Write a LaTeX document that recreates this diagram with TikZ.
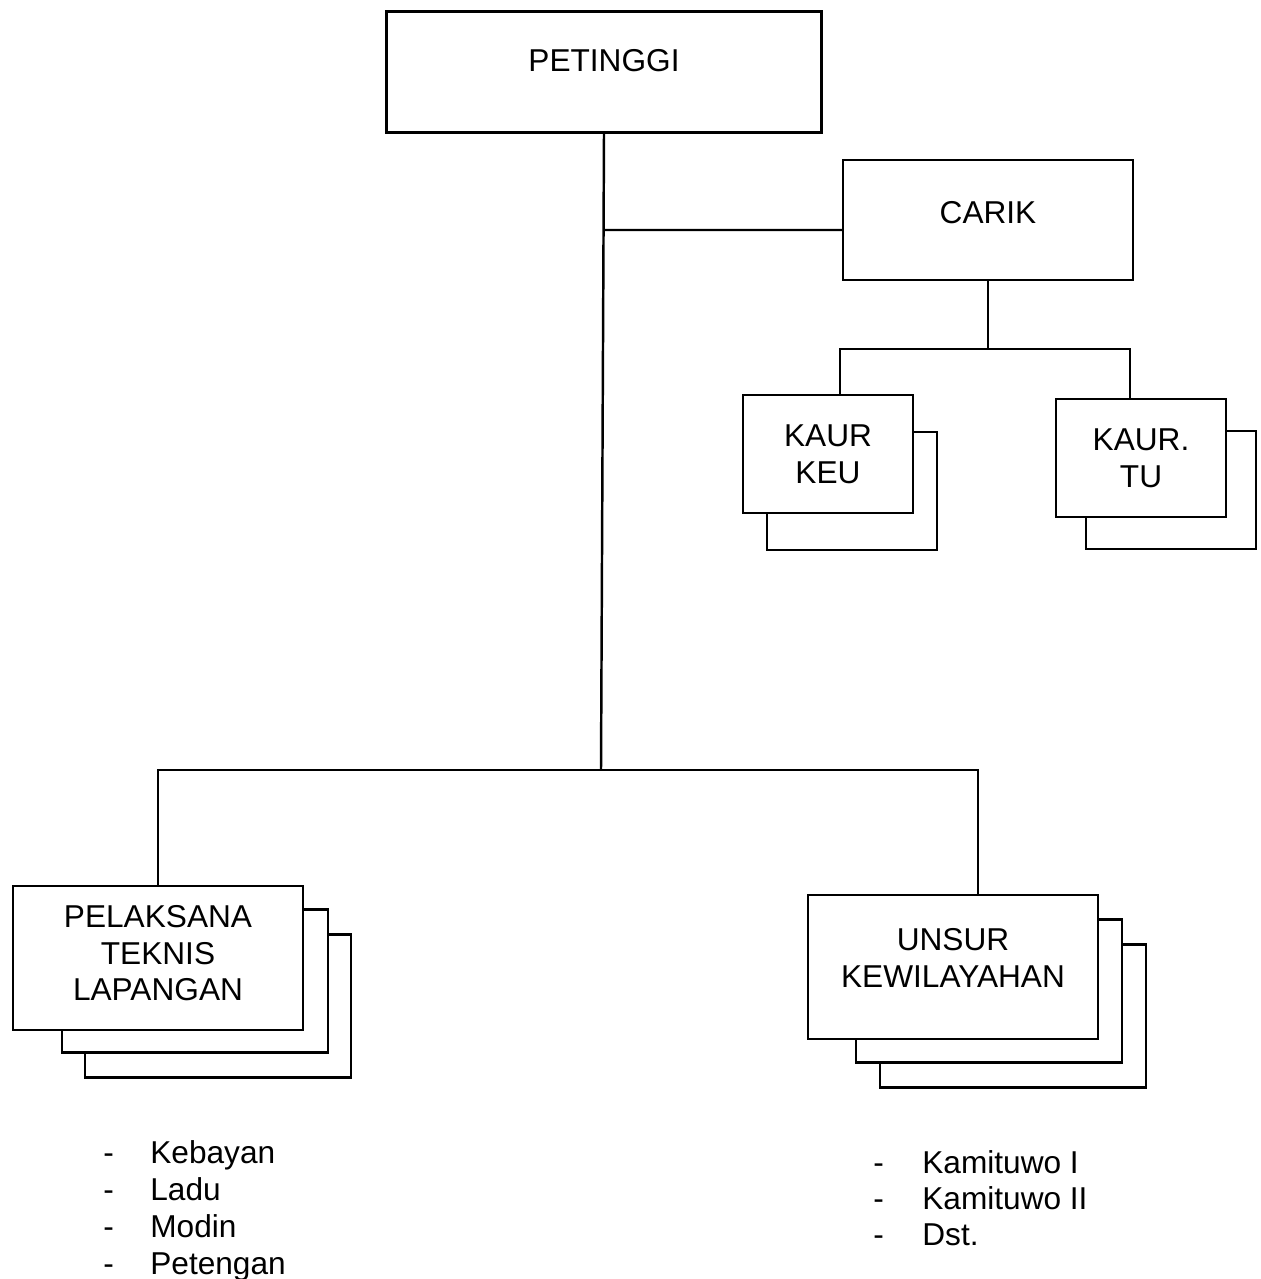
\documentclass[tikz,border=0pt]{standalone}
\usepackage{fontspec}
\setmainfont{Liberation Sans}
\usetikzlibrary{positioning}
\tikzset{
  orgbox/.style   = {draw,fill=white,line width=1.2pt,align=center,inner sep=0pt,
                     font=\fontsize{18}{21}\selectfont},
  widebox/.style  = {orgbox,minimum width=5.8cm,minimum height=2.88cm},
  backbox/.style  = {orgbox,minimum width=5.32cm,minimum height=2.86cm},
  smallbox/.style = {orgbox,minimum width=3.4cm,minimum height=2.35cm},
  orgline/.style  = {line width=1.4pt},
  listtext/.style = {anchor=base west,inner sep=0pt,font=\fontsize{18}{21}\selectfont}
}

\begin{document}
\begin{tikzpicture}[x=0.02cm,y=-0.02cm]
  \useasboundingbox (0,0) rectangle (1261,1279);

  % pimpinan
  \node[orgbox,minimum width=8.7cm,minimum height=2.42cm,text depth=0.45cm] (petinggi) at (604,72) {PETINGGI};
  \node[orgbox,minimum width=5.8cm,minimum height=2.4cm,text depth=0.3cm] (carik) at (988,220) {CARIK};

  % kaur
  \node[smallbox] at (852,491) {};
  \node[smallbox] (keu) at (828,454) {KAUR\\KEU};
  \node[smallbox] at (1171,490) {};
  \node[smallbox] (tu) at (1141,458) {KAUR.\\TU};

  % pelaksana dan kewilayahan
  \foreach \x/\y in {218/1006,195/981}
    \node[backbox] at (\x,\y) {};
  \node[widebox,text depth=0.2cm] (pelaksana) at (158,958) {PELAKSANA\\TEKNIS\\LAPANGAN};
  \foreach \x/\y in {1013/1016,989/991}
    \node[backbox] at (\x,\y) {};
  \node[widebox,text depth=0.35cm] (unsur) at (953,967) {UNSUR\\KEWILAYAHAN};

  % garis
  \coordinate (main) at (601,770);
  \draw[orgline] (petinggi.south) -- (main);
  \draw[orgline] (petinggi.south |- carik.west) ++(0,10) -- ([yshift=-0.2cm]carik.west);
  \draw[orgline] (carik.south) -- ++(0,68) coordinate (kaurmid);
  \draw[orgline] ([xshift=0.24cm]keu.north) |- (kaurmid) -| ([xshift=-0.22cm]tu.north);
  \draw[orgline] (pelaksana.north) |- (main) -| ([xshift=0.5cm]unsur.north);

  % rincian
  \foreach \t [count=\i] in {Kebayan,Ladu,Modin,Petengan} {
    \node[listtext] at (103,1126+37*\i) {-};
    \node[listtext] (kiri\i) at (150,1126+37*\i) {\t};
  }
  \foreach \t [count=\i] in {Kamituwo I,Kamituwo II,Dst.} {
    \node[listtext] at (873,1137+36*\i) {-};
    \node[listtext] (kanan\i) at (922,1137+36*\i) {\t};
  }
\end{tikzpicture}
\end{document}
